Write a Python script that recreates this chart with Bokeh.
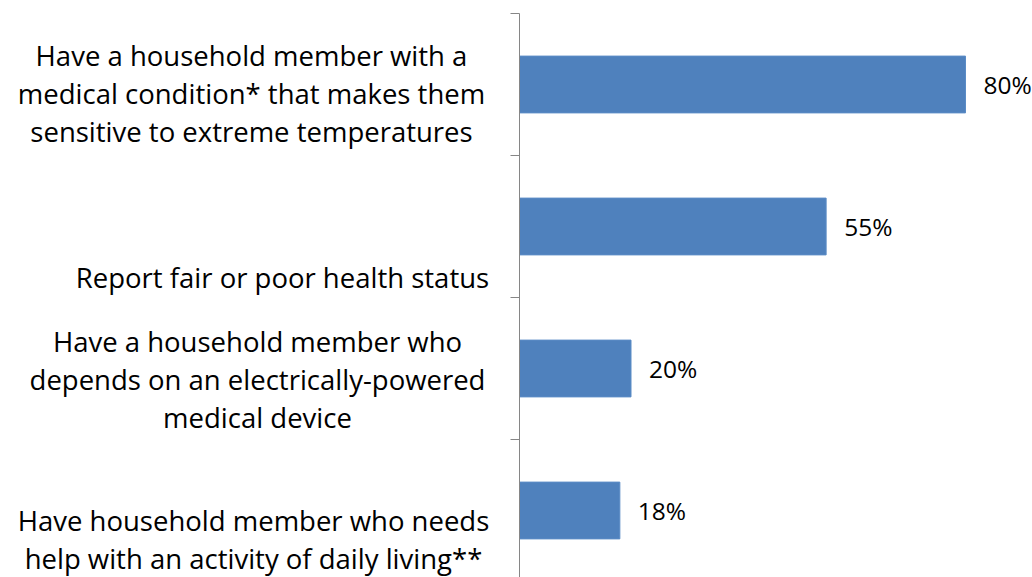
from bokeh.plotting import figure
from bokeh.models import Range1d, LinearAxis, FixedTicker, ColumnDataSource
from bokeh.core.properties import value
from bokeh.embed import file_html
from bokeh.resources import INLINE

# ---- data ----
categories = [
    "Have a household member with a\nmedical condition* that makes them\nsensitive to extreme temperatures",
    "Report fair or poor health status",
    "Have a household member who\ndepends on an electrically-powered\nmedical device",
    "Have household member who needs\nhelp with an activity of daily living**",
]
percent_values = [80, 55, 20, 18]
value_labels = ["80%", "55%", "20%", "18%"]

# ---- layout (pixels) ----
W, H = 1032, 577
AXIS_X = 519          # pixel of the value axis
TOP = 13              # pixel of the first category boundary
BAND = 142            # pixel height of one category band
PX_PER_PCT = 5.575    # pixels per percentage point

label_dx = [-268, -237, -262, -266]   # label centre relative to axis, px
label_dy = [9, 51, 11, 29]            # label centre relative to band centre, px

centers = [i + 0.5 for i in range(len(categories))]

p = figure(width=W, height=H, output_backend="svg", toolbar_location=None,
           x_axis_location=None, y_axis_location=None,
           x_range=Range1d(-AXIS_X / PX_PER_PCT, (W - AXIS_X) / PX_PER_PCT),
           y_range=Range1d((H - TOP) / BAND, -TOP / BAND),
           min_border=0, outline_line_color=None)
p.xgrid.visible = False
p.ygrid.visible = False
p.background_fill_color = "white"
p.border_fill_color = "white"

src = ColumnDataSource(dict(y=centers, v=percent_values, lab=value_labels,
                            cat=categories, dx=label_dx, dy=label_dy,
                            zero=[0] * len(categories)))

p.hbar(y="y", left=0, right="v", height=0.4, source=src,
       fill_color="#4F81BD", line_color="#5B8CC6", line_width=1)

p.text(x="v", y="y", text="lab", source=src, x_offset=18,
       text_align="left", text_baseline="middle",
       text_font=value("Open Sans"), text_font_size="24.5px", text_color="#000000")

p.text(x="zero", y="y", text="cat", source=src, x_offset="dx", y_offset="dy",
       text_align="center", text_baseline="middle", text_line_height=1.03,
       text_font=value("Open Sans"), text_font_size="27.5px", text_color="#000000")

ax = LinearAxis(fixed_location=0, ticker=FixedTicker(ticks=[0, 1, 2, 3, 4]),
                bounds=(0, 4), major_tick_in=0, major_tick_out=9,
                minor_tick_line_color=None, major_label_text_color=None,
                major_label_text_font_size="0px", major_label_standoff=0,
                axis_line_color="#868686", major_tick_line_color="#868686")
p.add_layout(ax, "left")

open("out.html", "w").write(file_html(p, INLINE))
